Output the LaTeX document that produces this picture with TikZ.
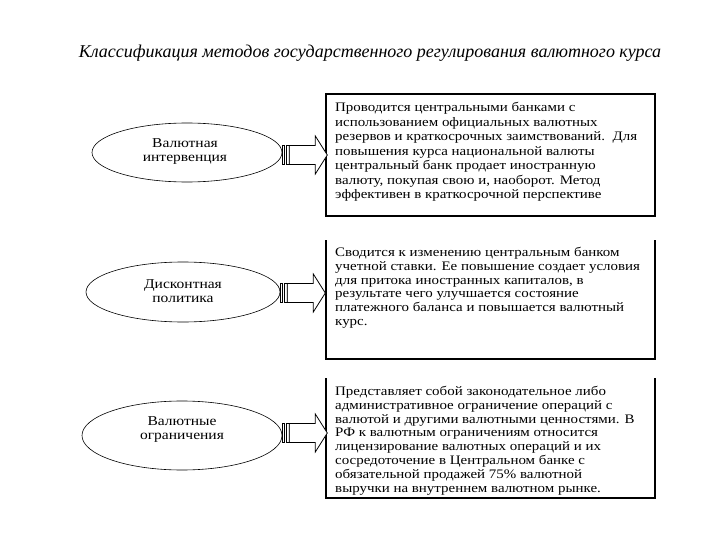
\documentclass[tikz,border=0pt]{standalone}
\usepackage{fontspec}
\setmainfont{Liberation Serif}
\newfontfamily\boxfont{Liberation Serif}[FakeStretch=1.15]
\usetikzlibrary{shapes.geometric}
\begin{document}
\begin{tikzpicture}[x=1pt,y=-1pt,
  ell/.style={draw, ellipse, line width=0.6pt, inner sep=0pt},
  lbl/.style={align=center, inner sep=0pt, font=\boxfont\fontsize{13.5}{14}\selectfont},
  txt/.style={anchor=north west, align=left, inner sep=0pt, font=\boxfont\fontsize{13}{13.8}\selectfont},
  frame/.style={line width=1.1pt},
  arrowline/.style={draw, line width=0.8pt, fill=white, line join=miter}
]
\useasboundingbox[fill=white] (0,0) rectangle (720,540);

\node (title) at (370,53) {\fontsize{18}{20}\selectfont\itshape Классификация методов государственного регулирования валютного курса};

% ellipses
\node[ell, minimum width=190pt, minimum height=59pt] (e1) at (187,152.5) {};
\node[lbl] (l1) at (185,151.5) {Валютная\\интервенция};
\node[ell, minimum width=194pt, minimum height=60pt] (e2) at (183,292) {};
\node[lbl] (l2) at (183,291.5) {Дисконтная\\политика};
\node[ell, minimum width=200pt, minimum height=69pt] (e3) at (182,435.5) {};
\node[lbl] (l3) at (182,429.5) {Валютные\\ограничения};

% boxes
\draw[frame] (326,94) rectangle (655,216);
\draw[frame] (326,240) -- (326,359) -- (655,359) -- (655,240);
\draw[frame] (326,378) -- (326,498) -- (655,498) -- (655,378);

\node[txt, font=\boxfont\fontsize{13}{14.5}\selectfont] (t1) at (335,102) {Проводится центральными банками с\\
использованием официальных валютных\\
резервов и краткосрочных заимствований.\ \ Для\\
повышения курса национальной валюты\\
центральный банк продает иностранную\\
валюту, покупая свою и, наоборот. Метод\\
эффективен в краткосрочной перспективе};

\node[txt] (t2) at (335,247) {Сводится к изменению центральным банком\\
учетной ставки. Ее повышение создает условия\\
для притока иностранных капиталов, в\\
результате чего улучшается состояние\\
платежного баланса и повышается валютный\\
курс.};

\node[txt] (t3) at (335,386) {Представляет собой законодательное либо\\
административное ограничение операций с\\
валютой и другими валютными ценностями. В\\
РФ к валютным ограничениям относится\\
лицензирование валютных операций и их\\
сосредоточение в Центральном банке с\\
обязательной продажей 75\% валютной\\
выручки на внутреннем валютном рынке.};

% striped block arrows
\coordinate (a1) at (e1.east |- 0,155);
\coordinate (a2) at (e2.east |- 0,293);
\coordinate (a3) at (e3.east |- 0,433);
\foreach \a in {a1,a2,a3}{
  \begin{scope}[shift={(\a)}]
    \path[arrowline] (0,-9.5) rectangle (2,9.5);
    \path[arrowline] (4,-9.5) rectangle (7,9.5);
    \path[arrowline] (7,-9.5) -- (33,-9.5) -- (33,-19) -- (45,0) -- (33,19) -- (33,9.5) -- (7,9.5) -- cycle;
  \end{scope}
}
\end{tikzpicture}
\end{document}
